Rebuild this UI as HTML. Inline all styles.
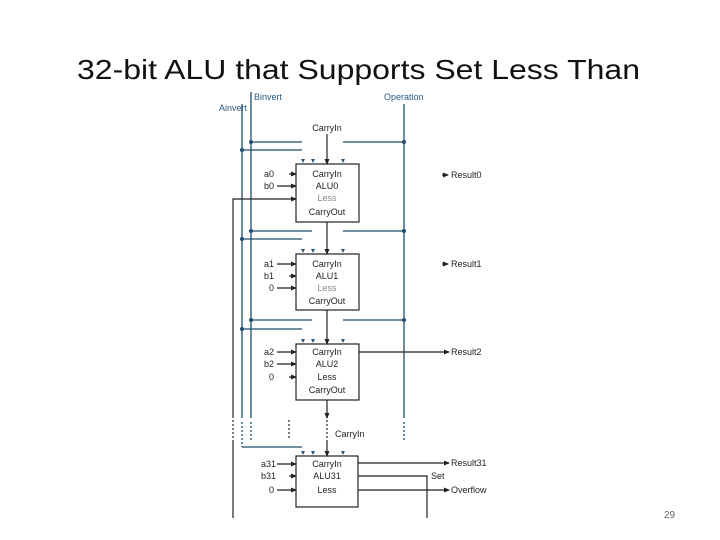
<!DOCTYPE html>
<html><head><meta charset="utf-8"><style>
html,body{margin:0;padding:0;background:#fff;width:720px;height:540px;overflow:hidden}
svg{display:block}
text{font-family:"Liberation Sans",sans-serif}
</style></head><body>
<svg width="720" height="540" viewBox="0 0 720 540" xmlns="http://www.w3.org/2000/svg">
<defs>
<marker id="a" markerWidth="6" markerHeight="6" refX="5" refY="3" orient="auto" markerUnits="userSpaceOnUse"><path d="M0,0.5 L6,3 L0,5.5z" fill="#222"/></marker>
<marker id="t" markerWidth="6" markerHeight="6" refX="5" refY="3" orient="auto" markerUnits="userSpaceOnUse"><path d="M0,0.5 L6,3 L0,5.5z" fill="#2a5a80"/></marker>
</defs>
<text x="77" y="79" font-size="28" textLength="563" lengthAdjust="spacingAndGlyphs" fill="#111">32-bit ALU that Supports Set Less Than</text>
<g font-size="9" fill="#2a5a80">
<text x="254" y="100">Binvert</text>
<text x="219" y="111">Ainvert</text>
<text x="384" y="100">Operation</text>
</g>
<g stroke="#1f4e6e" stroke-width="1.3" fill="none">
<line x1="251" y1="92" x2="251" y2="418"/>
<line x1="242" y1="104" x2="242" y2="418"/>
<line x1="404" y1="104" x2="404" y2="418"/>
<line x1="242" y1="422" x2="242" y2="447" stroke-dasharray="2,2"/>
<line x1="251" y1="422" x2="251" y2="440" stroke-dasharray="2,2"/>
<line x1="404" y1="422" x2="404" y2="440" stroke-dasharray="2,2"/>
<!-- horizontals -->
<path d="M251,142H302 M343,142H404 M242,150H302"/>
<path d="M251,231H312 M343,231H404 M242,239H302"/>
<path d="M251,320H312 M343,320H404 M242,329H302"/>
<path d="M242,447H302"/>
</g>
<g fill="#1f4e6e">
<circle cx="251" cy="142" r="2"/><circle cx="242" cy="150" r="2"/><circle cx="404" cy="142" r="2"/>
<circle cx="251" cy="231" r="2"/><circle cx="242" cy="239" r="2"/><circle cx="404" cy="231" r="2"/>
<circle cx="251" cy="320" r="2"/><circle cx="242" cy="329" r="2"/><circle cx="404" cy="320" r="2"/>
</g>
<g fill="#2a5a80">
<path d="M301,159h4l-2,4z M311,159h4l-2,4z M341,159h4l-2,4z"/>
<path d="M301,249h4l-2,4z M311,249h4l-2,4z M341,249h4l-2,4z"/>
<path d="M301,339h4l-2,4z M311,339h4l-2,4z M341,339h4l-2,4z"/>
<path d="M301,451h4l-2,4z M311,451h4l-2,4z M341,451h4l-2,4z"/>
</g>
<g stroke="#222" stroke-width="1.2" fill="none">
<rect x="296" y="164" width="63" height="58"/>
<rect x="296" y="254" width="63" height="56"/>
<rect x="296" y="344" width="63" height="56"/>
<rect x="296" y="456" width="62" height="51"/>
<line x1="327" y1="134" x2="327" y2="164" marker-end="url(#a)"/>
<line x1="327" y1="222" x2="327" y2="254" marker-end="url(#a)"/>
<line x1="327" y1="310" x2="327" y2="344" marker-end="url(#a)"/>
<line x1="327" y1="400" x2="327" y2="418" marker-end="url(#a)"/>
<line x1="327" y1="420" x2="327" y2="440" stroke-dasharray="2,2"/>
<line x1="327" y1="440" x2="327" y2="456" marker-end="url(#a)"/>
<line x1="289" y1="420" x2="289" y2="438" stroke-dasharray="2,2"/>
<line x1="233" y1="420" x2="233" y2="438" stroke-dasharray="2,2"/>
<path d="M233,418V199H296" marker-end="url(#a)"/>
<line x1="233" y1="440" x2="233" y2="518"/>
<!-- inputs -->
<line x1="289" y1="174" x2="296" y2="174" marker-end="url(#a)"/>
<line x1="277" y1="186" x2="296" y2="186" marker-end="url(#a)"/>
<line x1="277" y1="264" x2="296" y2="264" marker-end="url(#a)"/>
<line x1="289" y1="276" x2="296" y2="276" marker-end="url(#a)"/>
<line x1="277" y1="288" x2="296" y2="288" marker-end="url(#a)"/>
<line x1="277" y1="352" x2="296" y2="352" marker-end="url(#a)"/>
<line x1="277" y1="364" x2="296" y2="364" marker-end="url(#a)"/>
<line x1="289" y1="377" x2="296" y2="377" marker-end="url(#a)"/>
<line x1="277" y1="464" x2="296" y2="464" marker-end="url(#a)"/>
<line x1="289" y1="476" x2="296" y2="476" marker-end="url(#a)"/>
<line x1="277" y1="490" x2="296" y2="490" marker-end="url(#a)"/>
<!-- outputs -->
<line x1="359" y1="352" x2="449" y2="352" marker-end="url(#a)"/>
<line x1="358" y1="463" x2="449" y2="463" marker-end="url(#a)"/>
<line x1="358" y1="490" x2="449" y2="490" marker-end="url(#a)"/>
<path d="M358,476H427V518"/>
<line x1="442" y1="175" x2="448" y2="175" marker-end="url(#a)"/>
<line x1="442" y1="264" x2="448" y2="264" marker-end="url(#a)"/>
</g>
<g font-size="9" fill="#222" text-anchor="middle">
<text x="327" y="131">CarryIn</text>
<text x="327" y="177">CarryIn</text><text x="327" y="189">ALU0</text><text x="327" y="201" fill="#888">Less</text><text x="327" y="215">CarryOut</text>
<text x="327" y="267">CarryIn</text><text x="327" y="279">ALU1</text><text x="327" y="291" fill="#888">Less</text><text x="327" y="304">CarryOut</text>
<text x="327" y="355">CarryIn</text><text x="327" y="367">ALU2</text><text x="327" y="380">Less</text><text x="327" y="393">CarryOut</text>
<text x="327" y="467">CarryIn</text><text x="327" y="479">ALU31</text><text x="327" y="493">Less</text>
</g>
<g font-size="9" fill="#222" text-anchor="end">
<text x="274" y="177">a0</text><text x="274" y="189">b0</text>
<text x="274" y="267">a1</text><text x="274" y="279">b1</text><text x="274" y="291">0</text>
<text x="274" y="355">a2</text><text x="274" y="367">b2</text><text x="274" y="380">0</text>
<text x="276" y="467">a31</text><text x="276" y="479">b31</text><text x="274" y="493">0</text>
</g>
<g font-size="9" fill="#222">
<text x="451" y="178">Result0</text>
<text x="451" y="267">Result1</text>
<text x="451" y="355">Result2</text>
<text x="335" y="437">CarryIn</text>
<text x="451" y="466">Result31</text>
<text x="431" y="479">Set</text>
<text x="451" y="493">Overflow</text>
<text x="664" y="518" fill="#666" font-size="10">29</text>
</g>
</svg>
</body></html>
